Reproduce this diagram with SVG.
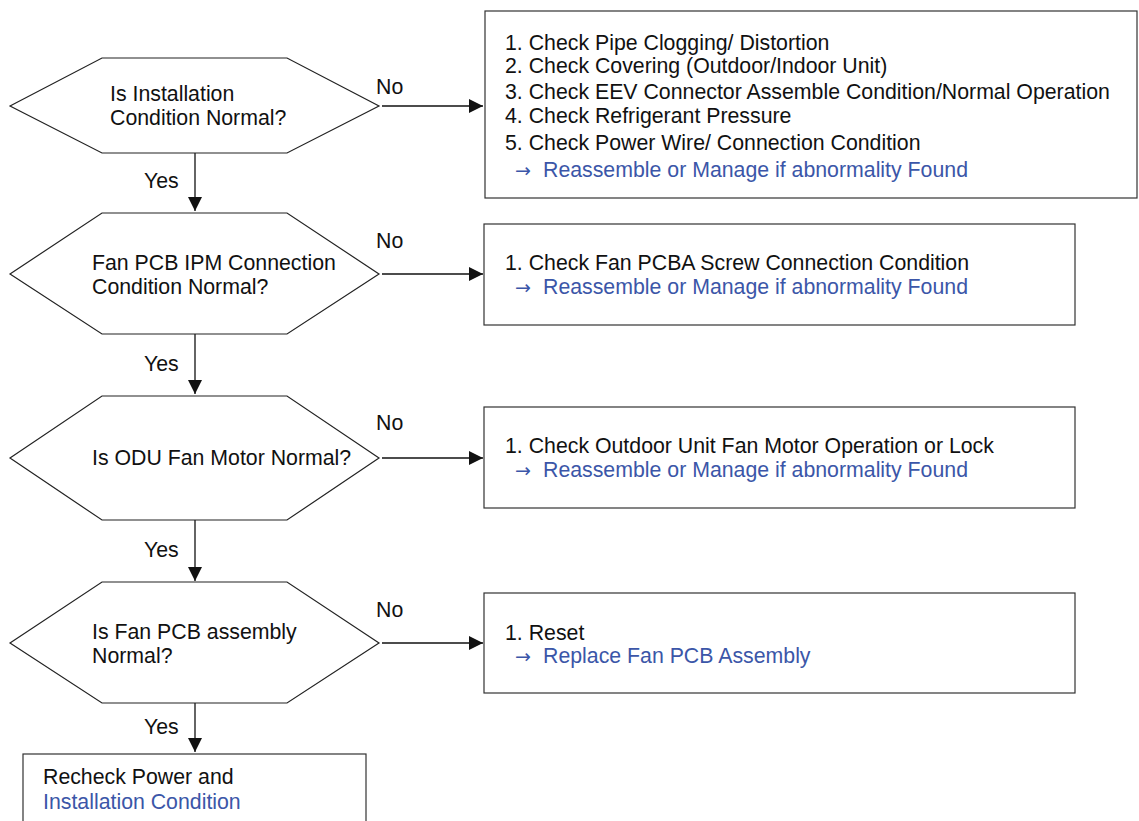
<svg xmlns="http://www.w3.org/2000/svg" width="1139" height="821" viewBox="0 0 1139 821">
<style>
text{font-family:"Liberation Sans",Arial,sans-serif;font-size:21.3px;fill:#111}
.b{fill:#3b56a8}
.ar{font-family:"DejaVu Sans",sans-serif;font-size:19px}
.shape{fill:#fff;stroke:#222;stroke-width:1.2}
.box{fill:#fff;stroke:#333;stroke-width:1.2}
.con{stroke:#111;stroke-width:1.3;fill:none}
</style>
<defs>
<marker id="ah" markerWidth="14" markerHeight="14" refX="14" refY="7" orient="auto" markerUnits="userSpaceOnUse">
<path d="M0,0 L14,7 L0,14 Z" fill="#111"/>
</marker>
</defs>
<rect width="1139" height="821" fill="#fff"/>

<g id="connectors">
<line class="con" x1="382" y1="106" x2="483" y2="106" marker-end="url(#ah)"/>
<line class="con" x1="382" y1="274" x2="483" y2="274" marker-end="url(#ah)"/>
<line class="con" x1="382" y1="458" x2="483" y2="458" marker-end="url(#ah)"/>
<line class="con" x1="382" y1="643" x2="483" y2="643" marker-end="url(#ah)"/>
<line class="con" x1="195" y1="153" x2="195" y2="211" marker-end="url(#ah)"/>
<line class="con" x1="195" y1="334" x2="195" y2="394" marker-end="url(#ah)"/>
<line class="con" x1="195" y1="520" x2="195" y2="581" marker-end="url(#ah)"/>
<line class="con" x1="195" y1="703" x2="195" y2="752" marker-end="url(#ah)"/>
<text x="376" y="94">No</text>
<text x="376" y="248">No</text>
<text x="376" y="430">No</text>
<text x="376" y="617">No</text>
<text x="144" y="188">Yes</text>
<text x="144" y="371">Yes</text>
<text x="144" y="557">Yes</text>
<text x="144" y="734">Yes</text>
</g>

<g id="q1">
<polygon class="shape" points="10,106 102,58 287,58 379,106 287,153 102,153"/>
<text x="110" y="101">Is Installation</text>
<text x="110" y="125">Condition Normal?</text>
</g>
<g id="a1">
<rect class="box" x="485" y="11" width="652" height="187"/>
<text x="505" y="50">1. Check Pipe Clogging/ Distortion</text>
<text x="505" y="73">2. Check Covering (Outdoor/Indoor Unit)</text>
<text x="505" y="99">3. Check EEV Connector Assemble Condition/Normal Operation</text>
<text x="505" y="123">4. Check Refrigerant Pressure</text>
<text x="505" y="150">5. Check Power Wire/ Connection Condition</text>
<text class="b" x="515" y="177"><tspan class="ar">→</tspan><tspan x="543">Reassemble or Manage if abnormality Found</tspan></text>
</g>

<g id="q2">
<polygon class="shape" points="10,274 102,213 287,213 379,274 287,334 102,334"/>
<text x="92" y="270">Fan PCB IPM Connection</text>
<text x="92" y="294">Condition Normal?</text>
</g>
<g id="a2">
<rect class="box" x="484" y="224" width="591" height="101"/>
<text x="505" y="270">1. Check Fan PCBA Screw Connection Condition</text>
<text class="b" x="515" y="294"><tspan class="ar">→</tspan><tspan x="543">Reassemble or Manage if abnormality Found</tspan></text>
</g>

<g id="q3">
<polygon class="shape" points="10,458 102,396 287,396 379,458 287,520 102,520"/>
<text x="92" y="465">Is ODU Fan Motor Normal?</text>
</g>
<g id="a3">
<rect class="box" x="484" y="407" width="591" height="101"/>
<text x="505" y="453">1. Check Outdoor Unit Fan Motor Operation or Lock</text>
<text class="b" x="515" y="477"><tspan class="ar">→</tspan><tspan x="543">Reassemble or Manage if abnormality Found</tspan></text>
</g>

<g id="q4">
<polygon class="shape" points="10,643 102,582 287,582 379,643 287,703 102,703"/>
<text x="92" y="639">Is Fan PCB assembly</text>
<text x="92" y="663">Normal?</text>
</g>
<g id="a4">
<rect class="box" x="484" y="593" width="591" height="100"/>
<text x="505" y="640">1. Reset</text>
<text class="b" x="515" y="663"><tspan class="ar">→</tspan><tspan x="543">Replace Fan PCB Assembly</tspan></text>
</g>

<g id="end">
<rect class="box" x="23" y="754" width="343" height="80"/>
<text x="43" y="784">Recheck Power and</text>
<text class="b" x="43" y="809">Installation Condition</text>
</g>
</svg>
